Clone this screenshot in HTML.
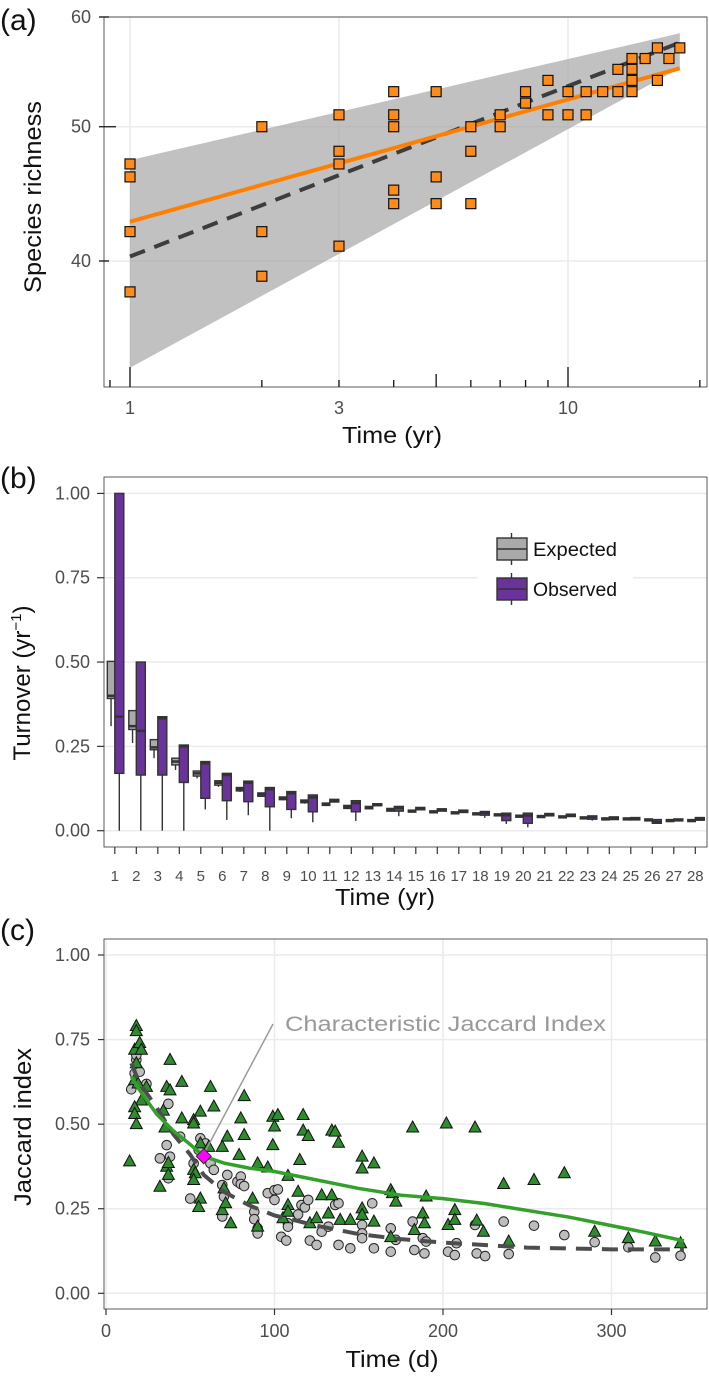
<!DOCTYPE html>
<html><head><meta charset="utf-8">
<style>
html,body{margin:0;padding:0;background:#fff;}
svg{display:block;font-family:"Liberation Sans",sans-serif;}
</style></head>
<body>
<svg id="fig" width="709" height="1377" viewBox="0 0 709 1377" xmlns="http://www.w3.org/2000/svg">
<rect width="709" height="1377" fill="#fff"/>
<text x="0" y="30" font-size="30" fill="#111">(a)</text>
<text x="0" y="488" font-size="30" fill="#111">(b)</text>
<text x="0" y="940" font-size="30" fill="#111">(c)</text>
<g id="pa"></g>
<g id="pb"></g>
<g id="pc"></g>
</svg>
<script>
// ---------- Panel (a) data ----------
const aTimes = [1,1,1,1, 2,2,2, 3,3,3,3, 4,4,4,4,4, 5,5,5, 6,6,6, 7,7, 8,8, 9,9, 10,10, 11,11, 12, 13,13, 14,14,14,14, 15, 16,16, 17, 18];
const aRichness = [47,46,42,38, 50,42,39, 51,48,47,41, 53,51,50,45,44, 53,46,44, 50,48,44, 51,50, 53,52, 54,51, 53,51, 53,51, 53, 55,53, 56,55,54,53, 56, 57,54, 56, 57];
const aFitX = [1, 18];
const aFitOrange = [42.7, 55.1];
const aFitDashed = [40.3, 57.5];
const aRibbonUpper = [47.3, 58.4];
const aRibbonLower = [33.5, 55.1];
const aYTicks = [40, 50, 60];
const aXTicks = [1, 3, 10];
const aMinorTicks = [0.9,1,2,3,4,5,6,7,8,9,10,20];

// ---------- Panel (b) data ----------
const bCats = [1,2,3,4,5,6,7,8,9,10,11,12,13,14,15,16,17,18,19,20,21,22,23,24,25,26,27,28];
const bYTicks = [0, 0.25, 0.5, 0.75, 1.0];
const bYLabels = ["0.00","0.25","0.50","0.75","1.00"];
const expMed = [0.40,0.31,0.247,0.205,0.17,0.142,0.123,0.108,0.096,0.087,0.078,0.070,0.068,0.062,0.058,0.056,0.053,0.050,0.047,0.043,0.042,0.041,0.038,0.035,0.035,0.032,0.030,0.030];
const expQ1 = [0.392,0.30,0.24,0.195,0.162,0.135,0.118,0.102,0.092,0.083,0.075,0.066,0.065,0.058,0.055,0.053,0.050,0.047,0.044,0.040,0.039,0.038,0.035,0.032,0.032,0.029,0.027,0.027];
const expQ3 = [0.502,0.356,0.27,0.215,0.177,0.148,0.128,0.112,0.100,0.091,0.082,0.075,0.072,0.066,0.061,0.059,0.056,0.053,0.050,0.046,0.045,0.044,0.041,0.038,0.038,0.035,0.033,0.033];
const expLo = [0.31,0.26,0.215,0.18,0.155,0.13,0.115,0.10,0.09,0.08,0.073,0.064,0.063,0.056,0.054,0.052,0.049,0.046,0.043,0.039,0.038,0.037,0.034,0.031,0.031,0.028,0.026,0.026];
const expHi = [0.502,0.356,0.27,0.215,0.177,0.148,0.128,0.112,0.100,0.091,0.082,0.075,0.072,0.066,0.061,0.059,0.056,0.053,0.050,0.046,0.045,0.044,0.041,0.038,0.038,0.035,0.033,0.033];
const obsMed = [0.338,0.296,0.333,0.25,0.20,0.165,0.142,0.123,0.111,0.099,0.090,0.082,0.077,0.068,0.066,0.062,0.058,0.053,0.046,0.045,0.048,0.046,0.041,0.038,0.036,0.026,0.032,0.036];
const obsQ1 = [0.17,0.165,0.165,0.143,0.096,0.089,0.086,0.071,0.063,0.056,0.085,0.056,0.074,0.058,0.062,0.058,0.054,0.046,0.030,0.022,0.044,0.042,0.034,0.033,0.032,0.022,0.029,0.031];
const obsQ3 = [1.0,0.50,0.338,0.254,0.205,0.17,0.147,0.128,0.116,0.106,0.093,0.089,0.080,0.072,0.069,0.065,0.061,0.057,0.052,0.052,0.051,0.049,0.044,0.041,0.039,0.033,0.035,0.039];
const obsLo = [0,0,0,0,0.063,0.032,0.046,0,0.037,0.025,0.085,0.029,0.074,0.043,0.062,0.058,0.054,0.038,0.020,0.010,0.044,0.042,0.030,0.033,0.032,0.022,0.029,0.031];
const obsHi = [1.0,0.50,0.338,0.254,0.205,0.17,0.147,0.128,0.116,0.106,0.093,0.089,0.080,0.072,0.069,0.065,0.061,0.057,0.052,0.052,0.051,0.049,0.044,0.041,0.039,0.033,0.035,0.039];

// ---------- Panel (c) data ----------
const cXTicks = [0,100,200,300];
const cYTicks = [0,0.25,0.5,0.75,1.0];
const cYLabels = ["0.00","0.25","0.50","0.75","1.00"];
const circT = [15,17,18,20,18,24,32,36,37,38,37,44,50,52,55,56,59,62,64,72,69,70,69,78,80,80,82,88,88,90,90,96,100,102,100,104,107,108,108,114,116,118,120,121,125,128,132,136,138,138,145,152,152,152,158,159,169,169,172,182,183,188,189,190,203,207,208,219,220,225,236,239,254,272,290,310,326,341];
const circJ = [.603,.65,.69,.655,.704,.619,.399,.438,.56,.404,.34,.463,.28,.384,.424,.458,.443,.384,.365,.35,.32,.286,.227,.33,.345,.323,.317,.241,.219,.192,.177,.296,.305,.307,.276,.167,.156,.207,.197,.233,.261,.254,.276,.156,.143,.182,.197,.261,.266,.143,.133,.202,.177,.163,.266,.133,.123,.192,.158,.212,.128,.163,.118,.153,.123,.113,.148,.202,.118,.11,.212,.116,.2,.172,.151,.136,.106,.111];
const triT = [18,18,17,20,21,18,17,19,21,17,17,18,14,24,32,38,36,38,34,35,36,37,37,45,45,52,52,56,56,52,53,52,56,55,62,64,61,69,72,70,69,71,74,80,82,79,82,90,87,90,96,99,102,100,99,108,108,105,108,114,115,117,117,120,121,125,128,134,134,136,138,132,139,145,152,152,152,152,159,159,169,170,172,169,182,183,190,188,189,202,203,207,207,219,220,224,236,239,254,272,290,310,326,341];
const triJ = [.79,.775,.72,.74,.72,.68,.63,.62,.57,.55,.53,.50,.39,.61,.315,.69,.61,.60,.54,.49,.374,.385,.35,.625,.517,.512,.502,.537,.443,.365,.355,.335,.28,.255,.61,.552,.433,.433,.463,.31,.246,.266,.207,.517,.468,.409,.583,.384,.28,.197,.372,.522,.527,.493,.438,.347,.261,.222,.241,.30,.394,.527,.481,.465,.207,.222,.29,.29,.481,.478,.445,.236,.217,.217,.404,.369,.251,.232,.384,.212,.305,.296,.271,.166,.49,.187,.286,.236,.207,.502,.202,.246,.217,.49,.215,.182,.323,.153,.335,.355,.182,.163,.153,.148];
const greenT = [15,20,30,40,50,58,70,85,100,120,150,175,200,225,250,275,300,320,343];
const greenJ = [.64,.60,.53,.48,.44,.405,.385,.37,.36,.34,.31,.29,.28,.265,.245,.225,.20,.18,.155];
const dashT = [15,20,30,40,50,58,70,85,100,125,150,175,200,250,300,343];
const dashJ = [.68,.62,.55,.47,.41,.35,.30,.26,.23,.20,.175,.16,.15,.135,.13,.13];
const charT = [58];
const charJ = [0.405];

const NS = "http://www.w3.org/2000/svg";
function mk(parent, tag, attrs, text){
  const el = document.createElementNS(NS, tag);
  for (const k in attrs) el.setAttribute(k, attrs[k]);
  if (text !== undefined) el.textContent = text;
  parent.appendChild(el);
  return el;
}
const GRID = "#ebebeb", AX = "#333", TXT = "#4d4d4d";

// ================= Panel A =================
(function(){
  const g = document.getElementById('pa');
  const xa = t => 130 + 438*Math.log10(t);
  const ya = v => 17 + 244*Math.log(60/v)/Math.log(1.5);
  const L=104, R=707, T=17, B=387;
  mk(g,'rect',{x:L,y:T,width:R-L,height:B-T,fill:'#fff'});
  aXTicks.forEach(t=>{ const l=mk(g,'line',{x1:xa(t),x2:xa(t),y1:T,y2:B,stroke:GRID,'stroke-width':1.5});
      });
  aYTicks.forEach(v=>{ const l=mk(g,'line',{x1:L,x2:R,y1:ya(v),y2:ya(v),stroke:GRID,'stroke-width':1.5});
      });
  // ribbon
  let pts = aFitX.map((t,i)=>xa(t)+','+ya(aRibbonUpper[i])).concat(aFitX.slice().reverse().map((t,j)=>{const i=aFitX.length-1-j;return xa(t)+','+ya(aRibbonLower[i]);}));
  const rib = mk(g,'polygon',{points:pts.join(' '),fill:'#a6a6a6','fill-opacity':0.7});
   
  const dl = mk(g,'polyline',{points:aFitX.map((t,i)=>xa(t)+','+ya(aFitDashed[i])).join(' '),fill:'none',stroke:'#3d3d3d','stroke-width':4,'stroke-dasharray':'16,10'});
   
  const ol = mk(g,'polyline',{points:aFitX.map((t,i)=>xa(t)+','+ya(aFitOrange[i])).join(' '),fill:'none',stroke:'#ff8000','stroke-width':4});
   
  aTimes.forEach((t,i)=>{
    const r = mk(g,'rect',{x:xa(t)-5,y:ya(aRichness[i])-5,width:10,height:10,fill:'#ff8c1a',stroke:'#111','stroke-width':1.2});
     
  });
  mk(g,'rect',{x:L,y:T,width:R-L,height:B-T,fill:'none',stroke:AX,'stroke-width':0.8});
  // log ticks bottom
  aMinorTicks.forEach(t=>{
    const len = (t===1||t===10)?20:(t===5?13:7);
    const l=mk(g,'line',{x1:xa(t),x2:xa(t),y1:B-len,y2:B,stroke:'#111','stroke-width':1.3});
     
  });
  aYTicks.forEach(v=>{
    const len = v===50?12:5;
    const l=mk(g,'line',{x1:L-5,x2:L+len,y1:ya(v),y2:ya(v),stroke:'#111','stroke-width':1.3});
     
    const tx=mk(g,'text',{x:91,y:ya(v)+6,'text-anchor':'end','font-size':18,fill:TXT},String(v));
     
  });
  aXTicks.forEach(t=>{
    const tx=mk(g,'text',{x:xa(t),y:414,'text-anchor':'middle','font-size':18,fill:TXT},String(t));
     
  });
  const xt=mk(g,'text',{x:392,y:443,'text-anchor':'middle','font-size':23,fill:'#111',textLength:100,lengthAdjust:'spacingAndGlyphs'},'Time (yr)');
   
  const yt=mk(g,'text',{x:0,y:0,'text-anchor':'middle','font-size':24,fill:'#111',transform:'translate(41,197) rotate(-90)',textLength:192,lengthAdjust:'spacingAndGlyphs'},'Species richness');
   
})();

// ================= Panel B =================
(function(){
  const g = document.getElementById('pb');
  const xb = i => 114.8 + 21.5*(i-1);
  const yb = v => 830.7 - 337.3*v;
  const L=104, R=707, T=477, B=847;
  bYTicks.forEach((v,k)=>{
    const l=mk(g,'line',{x1:L,x2:R,y1:yb(v),y2:yb(v),stroke:GRID,'stroke-width':1.5});
     
    const tk=mk(g,'line',{x1:L-7,x2:L,y1:yb(v),y2:yb(v),stroke:AX,'stroke-width':1.2});
     
    const tx=mk(g,'text',{x:90,y:yb(v)+6,'text-anchor':'end','font-size':18,fill:TXT},bYLabels[k]);
     
  });
  // legend background
  const lg = mk(g,'g',{});
   
  mk(lg,'rect',{x:478,y:532,width:155,height:75,fill:'#fff'});
  function box(parent, x0, w, q1, med, q3, lo, hi, fill, name){
    const grp = mk(parent,'g',{});
     
    const cx = x0 + w/2;
    mk(grp,'line',{x1:cx,x2:cx,y1:yb(hi),y2:yb(q3),stroke:AX,'stroke-width':1.4});
    mk(grp,'line',{x1:cx,x2:cx,y1:yb(q1),y2:yb(lo),stroke:AX,'stroke-width':1.4});
    mk(grp,'rect',{x:x0,y:yb(q3),width:w,height:Math.max(yb(q1)-yb(q3),1.5),fill:fill,stroke:AX,'stroke-width':1.4});
    mk(grp,'line',{x1:x0,x2:x0+w,y1:yb(med),y2:yb(med),stroke:AX,'stroke-width':2.5});
  }
  bCats.forEach((c,i)=>{
    const x = xb(c);
    box(g, x-7.5, 7.5, expQ1[i], expMed[i], expQ3[i], expLo[i], expHi[i], '#aaaaaa', 'expected-box');
    box(g, x, 9, obsQ1[i], obsMed[i], obsQ3[i], obsLo[i], obsHi[i], '#6a3399', 'observed-box');
    const tk=mk(g,'line',{x1:x,x2:x,y1:B,y2:B+7,stroke:AX,'stroke-width':1.2});
     
    const tx=mk(g,'text',{x:x,y:881,'text-anchor':'middle','font-size':15,fill:TXT},String(c));
     
  });
  // legend keys
  [['Expected','#aaaaaa',549],['Observed','#6a3399',589]].forEach(([lab,col,cy])=>{
    mk(lg,'line',{x1:511.5,x2:511.5,y1:cy-16,y2:cy+16,stroke:AX,'stroke-width':1.4});
    mk(lg,'rect',{x:497,y:cy-11,width:30,height:22,fill:col,stroke:AX,'stroke-width':1.4});
    mk(lg,'line',{x1:497,x2:527,y1:cy,y2:cy,stroke:AX,'stroke-width':1.4});
    const t=mk(lg,'text',{x:533,y:cy+7,'font-size':19,fill:'#111',textLength:84,lengthAdjust:'spacingAndGlyphs'},lab);
     
  });
  mk(g,'rect',{x:L,y:T,width:R-L,height:B-T,fill:'none',stroke:AX,'stroke-width':0.8});
  const xt=mk(g,'text',{x:385,y:905,'text-anchor':'middle','font-size':23,fill:'#111',textLength:100,lengthAdjust:'spacingAndGlyphs'},'Time (yr)');
   
  const yt=mk(g,'text',{x:0,y:0,'text-anchor':'middle','font-size':24,fill:'#111',transform:'translate(30,683) rotate(-90)'});
   
  yt.appendChild(document.createTextNode('Turnover (yr'));
  const sup = mk(yt,'tspan',{dy:-9,'font-size':15},'−1');
  mk(yt,'tspan',{dy:9},')');
})();

// ================= Panel C =================
(function(){
  const g = document.getElementById('pc');
  const xc = t => 106 + 1.685*t;
  const yc = v => 1293.3 - 338.3*v;
  const L=104, R=707, T=939, B=1309;
  cXTicks.forEach(t=>{
    const l=mk(g,'line',{x1:xc(t),x2:xc(t),y1:T,y2:B,stroke:GRID,'stroke-width':1.5});
     
    const tk=mk(g,'line',{x1:xc(t),x2:xc(t),y1:B,y2:B+6,stroke:AX,'stroke-width':1.2});
     
    const tx=mk(g,'text',{x:xc(t),y:1337,'text-anchor':'middle','font-size':18,fill:TXT},String(t));
     
  });
  cYTicks.forEach((v,k)=>{
    const l=mk(g,'line',{x1:L,x2:R,y1:yc(v),y2:yc(v),stroke:GRID,'stroke-width':1.5});
     
    const tk=mk(g,'line',{x1:L-6,x2:L,y1:yc(v),y2:yc(v),stroke:AX,'stroke-width':1.2});
     
    const tx=mk(g,'text',{x:90,y:yc(v)+6,'text-anchor':'end','font-size':18,fill:TXT},cYLabels[k]);
     
  });
  circT.forEach((t,i)=>{
    const c=mk(g,'circle',{cx:xc(t),cy:yc(circJ[i]),r:4.8,fill:'#bdbdbd',stroke:'#222','stroke-width':1});
     
  });
  triT.forEach((t,i)=>{
    const x=xc(t), y=yc(triJ[i]);
    const p=mk(g,'polygon',{points:`${x},${y-6.5} ${x-6},${y+4.5} ${x+6},${y+4.5}`,fill:'#2e8b2e',stroke:'#111','stroke-width':1});
     
  });
  const dl=mk(g,'polyline',{points:dashT.map((t,i)=>xc(t)+','+yc(dashJ[i])).join(' '),fill:'none',stroke:'#4d4d4d','stroke-width':4,'stroke-dasharray':'16,10'});
   
  const gl=mk(g,'polyline',{points:greenT.map((t,i)=>xc(t)+','+yc(greenJ[i])).join(' '),fill:'none',stroke:'#33a02c','stroke-width':3.5});
   
  const ax=xc(charT[0]), ay=yc(charJ[0]);
  const al=mk(g,'line',{x1:ax+2,y1:ay-6,x2:273,y2:1024,stroke:'#999','stroke-width':1.5});
   
  const d=mk(g,'polygon',{points:`${ax},${ay-7.5} ${ax+7.5},${ay} ${ax},${ay+7.5} ${ax-7.5},${ay}`,fill:'#ff00ff',stroke:'#333','stroke-width':1});
   
  const at=mk(g,'text',{x:285,y:1031,'font-size':21,fill:'#999',textLength:321,lengthAdjust:'spacingAndGlyphs'},'Characteristic Jaccard Index');
   
  mk(g,'rect',{x:L,y:T,width:R-L,height:B-T,fill:'none',stroke:AX,'stroke-width':0.8});
  const xt=mk(g,'text',{x:392,y:1367,'text-anchor':'middle','font-size':23,fill:'#111',textLength:93,lengthAdjust:'spacingAndGlyphs'},'Time (d)');
   
  const yt=mk(g,'text',{x:0,y:0,'text-anchor':'middle','font-size':24,fill:'#111',transform:'translate(31,1127) rotate(-90)',textLength:158,lengthAdjust:'spacingAndGlyphs'},'Jaccard index');
   
})();
</script>
</body></html>
